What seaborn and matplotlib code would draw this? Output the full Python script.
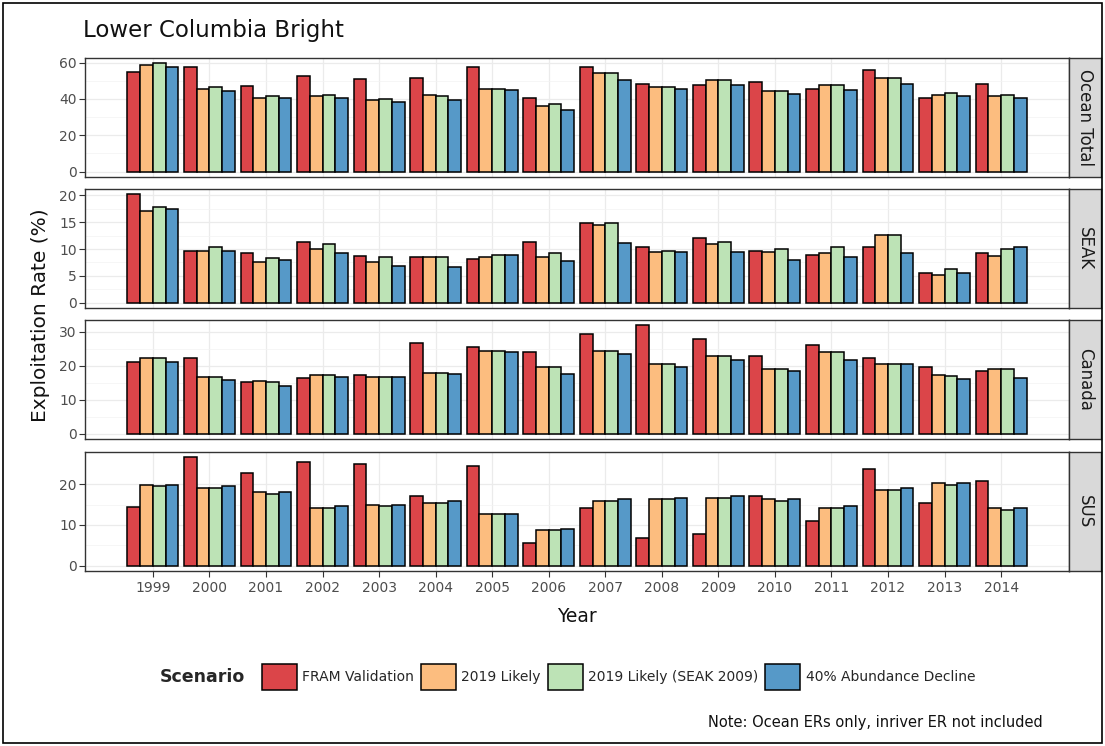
import matplotlib
matplotlib.use('Agg')
import pandas as pd
import matplotlib.pyplot as plt
import seaborn as sns

years = [str(y) for y in range(1999, 2015)]
scenarios = ['FRAM Validation', '2019 Likely', '2019 Likely (SEAK 2009)', '40% Abundance Decline']
regions = ['Ocean Total', 'SEAK', 'Canada', 'SUS']
colors = ['#DB4549', '#FCBD7F', '#BDE3B6', '#5699C8']

# exploitation rates (%), one list per scenario
ocean_fram = [54.9, 57.6, 46.9, 52.7, 51.1, 51.8, 57.6, 40.5, 57.6, 48.5, 47.6, 49.6, 45.6, 55.8, 40.5, 48.5]
ocean_likely = [58.5, 45.6, 40.5, 41.5, 39.5, 42.4, 45.5, 36.4, 54.2, 46.4, 50.5, 44.5, 47.6, 51.5, 42.2, 41.5]
ocean_seak09 = [59.6, 46.5, 41.5, 42.4, 40.0, 41.5, 45.5, 37.3, 54.5, 46.4, 50.5, 44.5, 47.8, 51.5, 43.1, 42.4]
ocean_decline = [57.8, 44.5, 40.4, 40.5, 38.5, 39.5, 45.0, 34.2, 50.5, 45.5, 47.8, 42.5, 44.7, 48.5, 41.6, 40.7]

seak_fram = [20.2, 9.7, 9.3, 11.3, 8.7, 8.6, 8.1, 11.4, 14.8, 10.3, 12.0, 9.7, 8.9, 10.3, 5.5, 9.3]
seak_likely = [17.1, 9.7, 7.5, 10.0, 7.5, 8.6, 8.6, 8.6, 14.4, 9.5, 10.9, 9.4, 9.3, 12.7, 5.1, 8.7]
seak_seak09 = [17.8, 10.4, 8.3, 11.0, 8.6, 8.6, 8.9, 9.2, 14.8, 9.6, 11.4, 10.0, 10.3, 12.7, 6.2, 10.0]
seak_decline = [17.4, 9.7, 7.9, 9.3, 6.8, 6.6, 8.8, 7.7, 11.1, 9.4, 9.4, 8.0, 8.6, 9.3, 5.5, 10.3]

canada_fram = [20.9, 22.1, 15.1, 16.3, 17.3, 26.5, 25.4, 24.0, 29.2, 31.8, 27.7, 22.8, 26.0, 22.2, 19.6, 18.4]
canada_likely = [22.1, 16.7, 15.4, 17.2, 16.7, 17.8, 24.2, 19.5, 24.2, 20.6, 22.8, 18.9, 24.0, 20.6, 17.2, 19.0]
canada_seak09 = [22.1, 16.7, 15.2, 17.2, 16.7, 17.8, 24.2, 19.5, 24.2, 20.6, 22.8, 18.9, 24.0, 20.6, 16.8, 19.0]
canada_decline = [21.0, 15.8, 14.0, 16.7, 16.7, 17.4, 23.9, 17.5, 23.4, 19.5, 21.6, 18.4, 21.5, 20.6, 15.9, 16.3]

sus_fram = [14.5, 26.6, 22.8, 25.4, 25.0, 17.2, 24.6, 5.5, 14.1, 6.7, 7.7, 17.2, 10.9, 23.7, 15.4, 20.9]
sus_likely = [19.9, 19.0, 18.1, 14.1, 15.0, 15.4, 12.8, 8.7, 15.9, 16.3, 16.7, 16.3, 14.1, 18.6, 20.3, 14.1]
sus_seak09 = [19.5, 19.0, 17.6, 14.1, 14.7, 15.4, 12.8, 8.7, 15.9, 16.3, 16.7, 15.9, 14.1, 18.6, 19.9, 13.6]
sus_decline = [19.9, 19.5, 18.1, 14.6, 15.0, 15.9, 12.8, 9.1, 16.3, 16.7, 17.2, 16.3, 14.6, 19.0, 20.3, 14.1]

region_values = {
    'Ocean Total': [ocean_fram, ocean_likely, ocean_seak09, ocean_decline],
    'SEAK': [seak_fram, seak_likely, seak_seak09, seak_decline],
    'Canada': [canada_fram, canada_likely, canada_seak09, canada_decline],
    'SUS': [sus_fram, sus_likely, sus_seak09, sus_decline],
}
y_ticks = {
    'Ocean Total': [0, 20, 40, 60],
    'SEAK': [0, 5, 10, 15, 20],
    'Canada': [0, 10, 20, 30],
    'SUS': [0, 10, 20],
}

rows = []
for region in regions:
    for scen, vals in zip(scenarios, region_values[region]):
        for yr, v in zip(years, vals):
            rows.append({'region': region, 'scenario': scen, 'year': yr, 'er': v})
df = pd.DataFrame(rows)

sns.set_theme(style='whitegrid')
plt.rcParams['font.family'] = ['DejaVu Sans']

fig = plt.figure(figsize=(11.05, 7.46), dpi=100)
W, H = 1105, 746
left, right = 85, 1069
panel_tops = [58, 189, 320, 452]
panel_h = 119

handles, labels = None, None
for i, region in enumerate(regions):
    top = panel_tops[i]
    ax = fig.add_axes([left / W, 1 - (top + panel_h) / H, (right - left) / W, panel_h / H])
    sub = df[df['region'] == region]
    sns.barplot(data=sub, x='year', y='er', hue='scenario', order=years, hue_order=scenarios,
                palette=colors, width=0.9, edgecolor='black', linewidth=1.1, saturation=1,
                ax=ax, legend=(i == 3))
    vmax = sub['er'].max()
    ax.set_ylim(-0.05 * vmax, 1.05 * vmax)
    ax.set_xlim(-1.2, len(years) - 1 + 1.2)
    ax.set_yticks(y_ticks[region])
    minor = [(a + b) / 2 for a, b in zip(y_ticks[region][:-1], y_ticks[region][1:])]
    ax.set_yticks(minor, minor=True)
    ax.grid(True, which='major', color='#EBEBEB', linewidth=0.9)
    ax.grid(True, which='minor', axis='y', color='#F3F3F3', linewidth=0.5)
    ax.set_axisbelow(True)
    ax.set_xlabel('')
    ax.set_ylabel('')
    for s in ax.spines.values():
        s.set_color('#333333')
        s.set_linewidth(1.0)
    ax.tick_params(axis='y', which='major', direction='out', length=4, width=0.8, color='#333333',
                   labelcolor='#4D4D4D', labelsize=10, pad=2, left=True)
    ax.tick_params(axis='y', which='minor', length=0)
    if i < 3:
        ax.tick_params(axis='x', length=0, labelbottom=False)
    else:
        ax.tick_params(axis='x', direction='out', length=4, width=0.8, color='#333333',
                       labelcolor='#4D4D4D', labelsize=10, pad=3, bottom=True)
        handles, labels = ax.get_legend_handles_labels()
        ax.get_legend().remove()

    sax = fig.add_axes([right / W, 1 - (top + panel_h) / H, 32 / W, panel_h / H])
    sax.set_facecolor('#D9D9D9')
    sax.set_xticks([])
    sax.set_yticks([])
    sax.grid(False)
    for s in sax.spines.values():
        s.set_color('#333333')
        s.set_linewidth(1.0)
    sax.text(0.5, 0.5, region, rotation=270, ha='center', va='center', fontsize=12,
             color='#1A1A1A', transform=sax.transAxes)

fig.text(83 / W, 1 - 30 / H, 'Lower Columbia Bright', fontsize=16.5, ha='left', va='center', color='#111111')
fig.text(40 / W, 1 - 315 / H, 'Exploitation Rate (%)', fontsize=14.5, rotation=90,
         ha='center', va='center', color='#111111')
fig.text(577 / W, 1 - 617 / H, 'Year', fontsize=13.5, ha='center', va='center', color='#111111')

fig.text(160 / W, 1 - 677 / H, 'Scenario', fontsize=12.5, fontweight='bold', ha='left', va='center')
fig.legend(handles, labels, loc='center left', bbox_to_anchor=(262 / W, 1 - 677 / H), ncol=4,
           frameon=False, fontsize=10, handlelength=2.5, handleheight=2.5, handletextpad=0.4,
           columnspacing=0.5, borderpad=0, borderaxespad=0)

fig.text(1043 / W, 1 - 722 / H, 'Note: Ocean ERs only, inriver ER not included', fontsize=10.5,
         ha='right', va='center', color='#111111')

frame = plt.Rectangle((3 / W, 3 / H), 1 - 6 / W, 1 - 6 / H, transform=fig.transFigure,
                      fill=False, edgecolor='black', linewidth=1.2)
fig.patches.append(frame)

fig.savefig('out.png', dpi=100)
